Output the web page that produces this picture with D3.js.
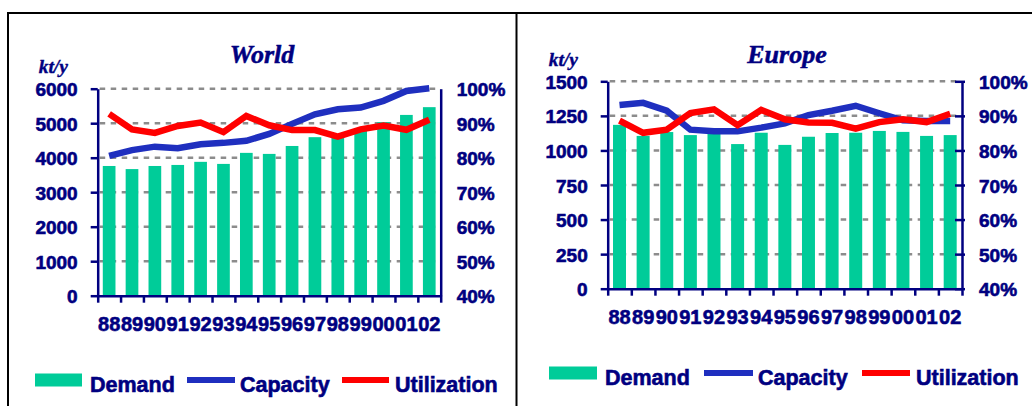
<!DOCTYPE html>
<html>
<head>
<meta charset="utf-8">
<script src="https://cdn.jsdelivr.net/npm/d3@7/dist/d3.min.js"></script>
<style>
  html, body { margin: 0; padding: 0; background: #fff; }
  svg { display: block; }
</style>
</head>
<body>
<svg id="chart" width="1032" height="406"></svg>
<script>
// Years shown on both category axes
const years = ["88","89","90","91","92","93","94","95","96","97","98","99","00","01","02"];

// World: demand and capacity in kt/y, utilization in %
const worldDemand      = [3760, 3670, 3760, 3790, 3880, 3820, 4140, 4110, 4340, 4595, 4650, 4800, 5030, 5240, 5465];
const worldCapacity    = [4050, 4220, 4320, 4275, 4390, 4430, 4490, 4690, 4980, 5258, 5405, 5455, 5648, 5935, 6012];
const worldUtilization = [92.7, 88.2, 87.2, 89.2, 90.2, 87.4, 92.1, 89.4, 88.0, 88.0, 86.1, 88.2, 89.3, 88.1, 91.0];
const worldTicks       = [0, 1000, 2000, 3000, 4000, 5000, 6000];

// Europe: demand and capacity in kt/y, utilization in %
const europeDemand      = [1185, 1105, 1133, 1111, 1120, 1046, 1128, 1040, 1099, 1126, 1128, 1141, 1134, 1105, 1111];
const europeCapacity    = [1328, 1344, 1288, 1150, 1139, 1138, 1165, 1196, 1256, 1287, 1323, 1269, 1218, 1213, 1213];
const europeUtilization = [88.6, 85.1, 86.0, 90.8, 91.9, 87.3, 91.7, 89.0, 88.1, 88.0, 86.3, 88.2, 89.0, 88.2, 90.6];
const europeTicks       = [0, 250, 500, 750, 1000, 1250, 1500];

// Utilization axis (right) ticks, shared by both panels
const pctTicks = [40, 50, 60, 70, 80, 90, 100];

const seriesNames = ["Demand", "Capacity", "Utilization"];

const NAVY = "#000080";
const GREEN = "#00CC99";
const BLUE = "#1F2FBF";
const RED = "#FF0000";
const GRID = "#8C8C8C";
const SANS = "'Liberation Sans', Arial, sans-serif";
const SERIF = "'Liberation Serif', 'Times New Roman', serif";

const svg = d3.select("#chart");

// Panel frames
svg.append("line").attr("x1", 8).attr("x2", 1032).attr("y1", 13).attr("y2", 13)
  .attr("stroke", "#000").attr("stroke-width", 2);
svg.append("line").attr("x1", 8).attr("x2", 8).attr("y1", 12).attr("y2", 406)
  .attr("stroke", "#000").attr("stroke-width", 2);
svg.append("line").attr("x1", 516.5).attr("x2", 516.5).attr("y1", 12).attr("y2", 406)
  .attr("stroke", "#000").attr("stroke-width", 2);

// Heavier text weight for labels
function heavy(sel, w) {
  sel.attr("stroke", NAVY).attr("stroke-width", w).attr("paint-order", "stroke");
}

function drawPanel(opt) {
  const g = svg.append("g");
  const x0 = opt.left, x1 = opt.right, yTop = opt.top, yBot = opt.bottom;

  const x = d3.scaleBand().domain(years).range([x0, x1])
    .paddingInner(opt.pad).paddingOuter(opt.pad / 2);
  const y = d3.scaleLinear().domain([0, opt.ticks[opt.ticks.length - 1]]).range([yBot, yTop]);
  const yp = d3.scaleLinear().domain([40, 100]).range([yBot, yTop]);
  const cx = d => x(d) + x.bandwidth() / 2;

  // Dashed gridlines
  g.append("g").selectAll("line").data(opt.ticks.filter(t => t > 0)).join("line")
    .attr("x1", x0 + 2).attr("x2", x1 - 2)
    .attr("y1", d => y(d)).attr("y2", d => y(d))
    .attr("stroke", GRID).attr("stroke-width", 2.5)
    .attr("stroke-dasharray", "5.5,5.5");

  // Demand bars
  g.append("g").selectAll("rect").data(years).join("rect")
    .attr("x", d => x(d)).attr("width", x.bandwidth())
    .attr("y", (d, i) => y(opt.demand[i]))
    .attr("height", (d, i) => yBot - y(opt.demand[i]))
    .attr("fill", GREEN);

  // Capacity line
  const capLine = d3.line().x((d, i) => cx(years[i])).y(d => y(d));
  g.append("path").datum(opt.capacity).attr("d", capLine)
    .attr("fill", "none").attr("stroke", BLUE).attr("stroke-width", 6.5)
    .attr("stroke-linejoin", "miter").attr("stroke-miterlimit", 2);

  // Utilization line
  const utilLine = d3.line().x((d, i) => cx(years[i])).y(d => yp(d));
  g.append("path").datum(opt.util).attr("d", utilLine)
    .attr("fill", "none").attr("stroke", RED).attr("stroke-width", 6.5)
    .attr("stroke-linejoin", "miter").attr("stroke-miterlimit", 2);

  // Left axis
  const leftAxis = g.append("g").attr("transform", `translate(${x0},0)`)
    .call(d3.axisLeft(y).tickValues(opt.ticks).tickFormat(d3.format("d"))
      .tickSize(7).tickSizeOuter(0).tickPadding(13));
  // Right axis
  const rightAxis = g.append("g").attr("transform", `translate(${x1},0)`)
    .call(d3.axisRight(yp).tickValues(pctTicks).tickFormat(d => d + "%")
      .tickSize(opt.rightTicks ? -7 : 0).tickSizeOuter(0).tickPadding(opt.rightPad));
  if (opt.rightTicks) {
    rightAxis.selectAll(".tick line").attr("x2", -7).attr("x1", 3);
  }
  // Bottom axis: ticks on category boundaries
  const idx = d3.scaleLinear().domain([0, years.length]).range([x0, x1]);
  const bottomAxis = g.append("g").attr("transform", `translate(0,${yBot})`)
    .call(d3.axisBottom(idx).tickValues(d3.range(years.length + 1)).tickFormat("")
      .tickSize(7).tickSizeOuter(0));
  // Year labels at category centres
  const labelAxis = g.append("g").attr("transform", `translate(0,${yBot})`)
    .call(d3.axisBottom(x).tickSize(0).tickPadding(21));
  labelAxis.select(".domain").remove();

  [leftAxis, rightAxis, bottomAxis, labelAxis].forEach(a => {
    a.attr("font-family", SANS).attr("font-size", null);
    a.selectAll(".domain").attr("stroke", NAVY).attr("stroke-width", 2.5);
    a.selectAll(".tick line").attr("stroke", NAVY).attr("stroke-width", 2.5);
    a.selectAll("text").attr("fill", NAVY).attr("font-weight", "bold").call(heavy, 0.6);
  });
  leftAxis.selectAll("text").attr("font-size", 19).attr("dy", "0.37em");
  rightAxis.selectAll("text").attr("font-size", 19).attr("dy", "0.37em");
  labelAxis.selectAll("text").attr("font-size", 20).attr("dy", "0.72em");

  // Title and unit
  g.append("text").attr("x", opt.titleX).attr("y", 63)
    .attr("text-anchor", "middle").attr("font-family", SERIF)
    .attr("font-style", "italic").attr("font-weight", "bold")
    .attr("font-size", 26).attr("fill", NAVY).text(opt.title).call(heavy, 0.5);
  g.append("text").attr("x", x0 - 59).attr("y", yTop - 15.5)
    .attr("font-family", SERIF).attr("font-style", "italic").attr("font-weight", "bold")
    .attr("font-size", 19.5).attr("fill", NAVY).text("kt/y").call(heavy, 0.4);

  // Legend
  const L = opt.legend;
  g.append("rect").attr("x", L.rect[0]).attr("y", L.y - 6.5).attr("width", L.rect[1] - L.rect[0])
    .attr("height", 13).attr("fill", GREEN);
  g.append("line").attr("x1", L.blue[0]).attr("x2", L.blue[1]).attr("y1", L.y).attr("y2", L.y)
    .attr("stroke", BLUE).attr("stroke-width", 6);
  g.append("line").attr("x1", L.red[0]).attr("x2", L.red[1]).attr("y1", L.y).attr("y2", L.y)
    .attr("stroke", RED).attr("stroke-width", 6);
  g.append("g").selectAll("text").data(seriesNames).join("text")
    .attr("x", (d, i) => L.text[i]).attr("y", L.y + 11.5)
    .attr("font-family", SANS).attr("font-weight", "bold").attr("font-size", 21.5)
    .attr("fill", NAVY).text(d => d).call(heavy, 0.6);
}

drawPanel({
  title: "World", titleX: 262,
  left: 97.7, right: 440.7, top: 88.7, bottom: 295.7, pad: 0.445,
  ticks: worldTicks, demand: worldDemand, capacity: worldCapacity, util: worldUtilization,
  rightTicks: false, rightPad: 16,
  legend: { y: 380, rect: [35, 82], blue: [187, 235], red: [342, 389], text: [90, 240, 395] }
});

drawPanel({
  title: "Europe", titleX: 787,
  left: 607.7, right: 962, top: 81.3, bottom: 288.7, pad: 0.45,
  ticks: europeTicks, demand: europeDemand, capacity: europeCapacity, util: europeUtilization,
  rightTicks: true, rightPad: 17,
  legend: { y: 373, rect: [549, 597], blue: [704, 753], red: [862, 910], text: [605, 758, 916] }
});
</script>
</body>
</html>
